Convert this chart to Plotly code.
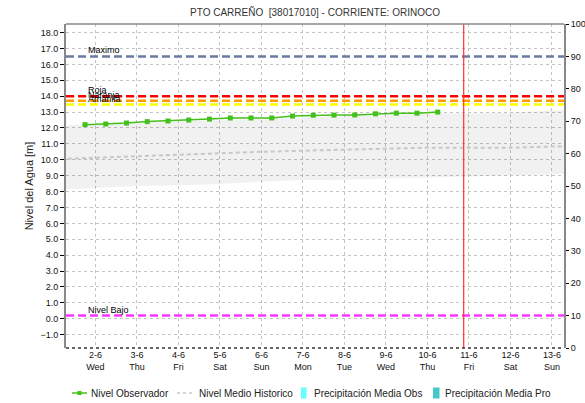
import plotly.graph_objects as go

title_text = "PTO CARREÑO  [38017010] - CORRIENTE: ORINOCO"

day_ticks = ["2021-06-02", "2021-06-03", "2021-06-04", "2021-06-05", "2021-06-06", "2021-06-07",
             "2021-06-08", "2021-06-09", "2021-06-10", "2021-06-11", "2021-06-12", "2021-06-13"]
day_labels = ["2-6<br>Wed", "3-6<br>Thu", "4-6<br>Fri", "5-6<br>Sat", "6-6<br>Sun", "7-6<br>Mon",
              "8-6<br>Tue", "9-6<br>Wed", "10-6<br>Thu", "11-6<br>Fri", "12-6<br>Sat", "13-6<br>Sun"]

obs_time = ["2021-06-01 18:00", "2021-06-02 06:00", "2021-06-02 18:00", "2021-06-03 06:00",
            "2021-06-03 18:00", "2021-06-04 06:00", "2021-06-04 18:00", "2021-06-05 06:00",
            "2021-06-05 18:00", "2021-06-06 06:00", "2021-06-06 18:00", "2021-06-07 06:00",
            "2021-06-07 18:00", "2021-06-08 06:00", "2021-06-08 18:00", "2021-06-09 06:00",
            "2021-06-09 18:00", "2021-06-10 06:00"]
obs_level = [12.21, 12.25, 12.31, 12.40, 12.44, 12.50, 12.56, 12.63, 12.63,
             12.63, 12.75, 12.80, 12.81, 12.82, 12.89, 12.93, 12.93, 13.00]

hist_time = ["2021-06-01", "2021-06-02", "2021-06-03", "2021-06-04", "2021-06-05", "2021-06-06",
             "2021-06-07", "2021-06-08", "2021-06-09", "2021-06-10", "2021-06-11", "2021-06-12",
             "2021-06-13", "2021-06-14"]
hist_mean = [10.04, 10.14, 10.22, 10.31, 10.40, 10.50, 10.57, 10.63, 10.70, 10.76, 10.75, 10.76, 10.83, 10.88]
hist_min = [8.12, 8.22, 8.35, 8.40, 8.48, 8.62, 8.73, 8.75, 8.82, 8.92, 9.00, 9.03, 9.12, 9.15]
hist_max = [12.15, 12.22, 12.30, 12.40, 12.48, 12.58, 12.62, 12.75, 12.80, 12.92, 12.92, 12.95, 13.10, 13.10]

threshold_names = ["Maximo", "Roja", "Naranja", "Amarilla", "Nivel Bajo"]
threshold_values = [16.5, 14.0, 13.72, 13.47, 0.2]
threshold_colors = ["#6a7aa2", "#ff0000", "#ff9a00", "#ffff00", "#ff33ff"]

now_time = "2021-06-10 21:00"
x_range = ["2021-06-01 07:00", "2021-06-13 07:00"]
y_range = [-1.84, 18.54]
y2_range = [0, 100]
y_ticks = [-1.0, 0.0, 1.0, 2.0, 3.0, 4.0, 5.0, 6.0, 7.0, 8.0, 9.0, 10.0, 11.0, 12.0,
           13.0, 14.0, 15.0, 16.0, 17.0, 18.0]
y2_ticks = [0, 10, 20, 30, 40, 50, 60, 70, 80, 90, 100]

legend_labels = ["Nivel Observador", "Nivel Medio Historico", "Precipitación Media Obs", "Precipitación Media Pro"]
green = "#44c01a"
mean_color = "#c8c8c8"
precip_obs_color = "#66ffff"
precip_pro_color = "#44c8c8"

FONT = "Liberation Sans, Arial, sans-serif"

W, H = 585, 403
PL, PR, PT, PB = 66, 564, 24, 348  # plot area in page pixels

fig = go.Figure()

# historical band
fig.add_trace(go.Scatter(x=hist_time, y=hist_min, mode="lines", line=dict(width=0),
                         showlegend=False, hoverinfo="skip"))
fig.add_trace(go.Scatter(x=hist_time, y=hist_max, mode="lines", line=dict(width=0),
                         fill="tonexty", fillcolor="rgba(0,0,0,0.055)",
                         showlegend=False, hoverinfo="skip"))
# historical mean
fig.add_trace(go.Scatter(x=hist_time, y=hist_mean, mode="lines", name=legend_labels[1],
                         line=dict(color=mean_color, width=2, dash="4px,3px"), showlegend=False))
# observed
fig.add_trace(go.Scatter(x=obs_time, y=obs_level, mode="lines+markers", name=legend_labels[0],
                         line=dict(color=green, width=1.5),
                         marker=dict(color=green, symbol="square", size=5), showlegend=False))
# precipitation (no data)
fig.add_trace(go.Bar(x=[None], y=[None], yaxis="y2", marker_color=precip_obs_color,
                     name=legend_labels[2], showlegend=False))
fig.add_trace(go.Bar(x=[None], y=[None], yaxis="y2", marker_color=precip_pro_color,
                     name=legend_labels[3], showlegend=False))

shapes = []
annotations = []
for name, val, col in zip(threshold_names, threshold_values, threshold_colors):
    shapes.append(dict(type="line", xref="paper", x0=0, x1=1, yref="y", y0=val, y1=val,
                       line=dict(color=col, width=2.5, dash="8px,4px"), layer="above"))
    annotations.append(dict(xref="paper", x=0.04, yref="y", y=val, yshift=6, text=name,
                            showarrow=False, xanchor="left", yanchor="middle",
                            font=dict(family=FONT, size=9, color="#000")))

# now line
shapes.append(dict(type="line", xref="x", x0=now_time, x1=now_time, yref="paper", y0=0, y1=1,
                   line=dict(color="#ff3030", width=1.2)))
# frame: top solid, bottom dotted
shapes.append(dict(type="line", xref="paper", x0=0, x1=1, yref="paper", y0=1, y1=1,
                   line=dict(color="#888888", width=1.5)))
shapes.append(dict(type="line", xref="paper", x0=0, x1=1, yref="paper", y0=0, y1=0,
                   line=dict(color="#333333", width=1.5, dash="dot")))


def px(xp):
    return (xp - PL) / float(PR - PL)


def py(yp):
    return (PB - yp) / float(PB - PT)


leg_y = py(393)
shapes.append(dict(type="line", xref="paper", yref="paper", x0=px(72), x1=px(87), y0=leg_y, y1=leg_y,
                   line=dict(color=green, width=1.5)))
shapes.append(dict(type="rect", xref="paper", yref="paper", x0=px(77.5), x1=px(81.5),
                   y0=py(395), y1=py(391), fillcolor=green, line=dict(width=0)))
shapes.append(dict(type="line", xref="paper", yref="paper", x0=px(177), x1=px(194), y0=leg_y, y1=leg_y,
                   line=dict(color=mean_color, width=1.5, dash="3px,3px")))
shapes.append(dict(type="rect", xref="paper", yref="paper", x0=px(301), x1=px(306.5),
                   y0=py(398.5), y1=py(387.5), fillcolor=precip_obs_color, line=dict(width=0)))
shapes.append(dict(type="rect", xref="paper", yref="paper", x0=px(433), x1=px(439.5),
                   y0=py(398.5), y1=py(387.5), fillcolor=precip_pro_color, line=dict(width=0)))
for lab, xs in zip(legend_labels, [89, 197, 311.5, 442.5]):
    annotations.append(dict(xref="paper", yref="paper", x=px(xs), y=leg_y, text=lab, showarrow=False,
                            xanchor="left", yanchor="middle",
                            font=dict(family=FONT, size=10, color="#222")))

fig.update_layout(
    width=W, height=H,
    margin=dict(l=PL, r=W - PR, t=PT, b=H - PB, pad=0),
    plot_bgcolor="white", paper_bgcolor="white",
    showlegend=False,
    title=dict(text=title_text, x=0.5, xref="paper", y=1 - 12.0 / H, yanchor="middle",
               font=dict(family=FONT, size=10, color="#333")),
    font=dict(family=FONT, size=9, color="#222"),
    xaxis=dict(type="date", range=x_range, tickvals=day_ticks, ticktext=day_labels,
               showgrid=True, gridcolor="#c4c4c4", griddash="dot", gridwidth=1,
               showline=False, ticks="", zeroline=False, tickfont=dict(size=9, color="#111"),
               automargin=False),
    yaxis=dict(range=y_range, tickvals=y_ticks, tickformat=".1f", showgrid=True,
               gridcolor="#c4c4c4", griddash="dot", gridwidth=1, zeroline=False,
               showline=True, linecolor="#888888", linewidth=2, ticks="outside", ticklen=4,
               tickcolor="#000", tickfont=dict(size=9, color="#111"),
               title=dict(text="Nivel del Agua [m]", font=dict(size=11, color="#222"), standoff=5),
               automargin=False),
    yaxis2=dict(range=y2_range, tickvals=y2_ticks, overlaying="y", side="right", showgrid=False,
                zeroline=False, showline=True, linecolor="#888888", linewidth=2,
                ticks="outside", ticklen=3, tickcolor="#000", tickfont=dict(size=9, color="#111"),
                automargin=False),
    shapes=shapes,
    annotations=annotations,
)

fig.write_html("out.html", config={"displayModeBar": False},
               post_script="document.body.style.margin='0px';document.body.style.overflow='hidden';")
